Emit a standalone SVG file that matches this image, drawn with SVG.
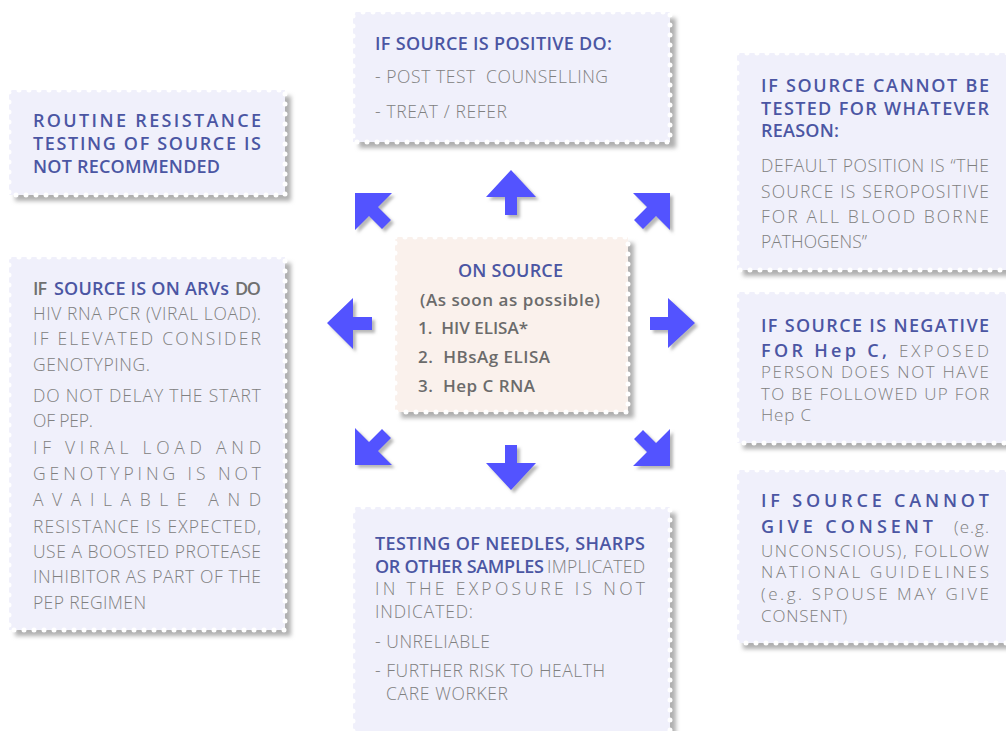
<svg xmlns="http://www.w3.org/2000/svg" width="1006" height="731" viewBox="0 0 1006 731">
<defs>
<filter id="blur" x="-10%" y="-10%" width="120%" height="120%"><feGaussianBlur stdDeviation="2.2"/></filter>
<filter id="ash" x="-30%" y="-30%" width="160%" height="160%"><feDropShadow dx="3" dy="3" stdDeviation="1.5" flood-color="#888" flood-opacity="0.6"/></filter>
<style>
.box{fill:#f0f0fb}
.pbox{fill:#faf1ec}
.sh{fill:#b0b0b0;filter:url(#blur)}
.edge{fill:none;stroke:#fff;stroke-width:5;stroke-dasharray:0 10;stroke-linecap:round}
.t{font-family:"Open Sans","Noto Sans",sans-serif;font-size:18px;font-weight:600;fill:#4b56a3}
.g{font-family:"Open Sans","Noto Sans",sans-serif;font-size:18px;font-weight:600;fill:#707070}
.b{font-family:"Open Sans","Noto Sans",sans-serif;font-size:17.5px;font-weight:300;fill:#808080}
.s{font-size:17px}
.c{font-family:"Open Sans","Noto Sans",sans-serif;font-size:17px;font-weight:600;fill:#6b6b6b;white-space:pre}
.arrow{fill:#5252ff;filter:url(#ash)}
</style>
</defs>
<rect width="1006" height="731" fill="#fff"/>

<g id="connectors">
<polygon class="arrow" points="511,170 536,197 517,197 517,215 505,215 505,197 486,197"/>
<polygon class="arrow" points="511,490 536,463 517,463 517,445 505,445 505,463 486,463"/>
<polygon class="arrow" points="327,323 353,298 353,317 372,317 372,330 353,330 353,349"/>
<polygon class="arrow" points="695,323 668,298 668,317 650,317 650,330 668,330 668,348"/>
<polygon class="arrow" points="355,193 392,193 378,207 391,220 382,229 369,216 355,230"/>
<polygon class="arrow" points="670,193 633,193 647,207 634,220 643,229 656,216 670,230"/>
<polygon class="arrow" points="355,465 392,465 378,451 391,438 382,429 369,442 355,428"/>
<polygon class="arrow" points="670,466 633,466 647,452 634,439 643,430 656,443 670,429"/>
</g>

<g id="positive">
<rect class="sh" x="359" y="18" width="317" height="130"/>
<rect class="box" x="353" y="12" width="317" height="130"/>
<rect class="edge" x="353" y="12" width="317" height="130"/>
<text class="t" x="375" y="50" textLength="237" lengthAdjust="spacing">IF SOURCE IS POSITIVE DO:</text>
<text class="b" x="375" y="83" textLength="233" lengthAdjust="spacing" style="white-space:pre">- POST TEST  COUNSELLING</text>
<text class="b" x="375" y="118" textLength="132" lengthAdjust="spacing">- TREAT / REFER</text>
</g>

<g id="routine">
<rect class="sh" x="15" y="96" width="276" height="105"/>
<rect class="box" x="9" y="90" width="276" height="105"/>
<rect class="edge" x="9" y="90" width="276" height="105"/>
<text class="t" x="33" y="127" textLength="228" lengthAdjust="spacing">ROUTINE RESISTANCE</text>
<text class="t" x="33" y="150" textLength="228" lengthAdjust="spacing">TESTING OF SOURCE IS</text>
<text class="t" x="33" y="173" textLength="187" lengthAdjust="spacing">NOT RECOMMENDED</text>
</g>

<g id="cannot-test">
<rect class="sh" x="743" y="59" width="283" height="217"/>
<rect class="box" x="737" y="53" width="283" height="217"/>
<rect class="edge" x="737" y="53" width="283" height="217"/>
<text class="t" x="761" y="92" textLength="228" lengthAdjust="spacing">IF SOURCE CANNOT BE</text>
<text class="t" x="761" y="115" textLength="228" lengthAdjust="spacing">TESTED FOR WHATEVER</text>
<text class="t" x="761" y="137" textLength="78" lengthAdjust="spacing">REASON:</text>
<text class="b" x="761" y="172" textLength="228" lengthAdjust="spacing">DEFAULT POSITION IS “THE</text>
<text class="b" x="761" y="198" textLength="228" lengthAdjust="spacing">SOURCE IS SEROPOSITIVE</text>
<text class="b" x="761" y="223" textLength="228" lengthAdjust="spacing">FOR ALL BLOOD BORNE</text>
<text class="b" x="761" y="248" textLength="106" lengthAdjust="spacing">PATHOGENS”</text>
</g>

<g id="arvs">
<rect class="sh" x="15" y="263" width="276" height="373"/>
<rect class="box" x="9" y="257" width="276" height="373"/>
<rect class="edge" x="9" y="257" width="276" height="373"/>
<text class="g" x="33" y="295" textLength="14" lengthAdjust="spacing">IF</text>
<text class="t" x="54" y="295" textLength="175" lengthAdjust="spacing">SOURCE IS ON ARVs</text>
<text class="g" x="235" y="295" textLength="26" lengthAdjust="spacing">DO</text>
<text class="b" x="33" y="320" textLength="228" lengthAdjust="spacing">HIV RNA PCR (VIRAL LOAD).</text>
<text class="b" x="33" y="345" textLength="228" lengthAdjust="spacing">IF ELEVATED CONSIDER</text>
<text class="b" x="33" y="371" textLength="117" lengthAdjust="spacing">GENOTYPING.</text>
<text class="b" x="33" y="402" textLength="228" lengthAdjust="spacing">DO NOT DELAY THE START</text>
<text class="b" x="33" y="427" textLength="60" lengthAdjust="spacing">OF PEP.</text>
<text class="b" x="33" y="454" textLength="228" lengthAdjust="spacing">IF VIRAL LOAD AND</text>
<text class="b" x="33" y="480" textLength="228" lengthAdjust="spacing">GENOTYPING IS NOT</text>
<text class="b" x="33" y="506" textLength="228" lengthAdjust="spacing">AVAILABLE AND</text>
<text class="b" x="33" y="533" textLength="228" lengthAdjust="spacing">RESISTANCE IS EXPECTED,</text>
<text class="b" x="33" y="558" textLength="228" lengthAdjust="spacing">USE A BOOSTED PROTEASE</text>
<text class="b" x="33" y="583" textLength="228" lengthAdjust="spacing">INHIBITOR AS PART OF THE</text>
<text class="b" x="33" y="609" textLength="113" lengthAdjust="spacing">PEP REGIMEN</text>
</g>

<g id="on-source">
<rect class="sh" x="401" y="243" width="233" height="175"/>
<rect class="pbox" x="395" y="237" width="233" height="175"/>
<rect class="edge" x="395" y="237" width="233" height="175"/>
<text class="t" x="458" y="277" textLength="105" lengthAdjust="spacing">ON SOURCE</text>
<text class="c" x="420" y="306" textLength="180" lengthAdjust="spacing">(As soon as possible)</text>
<text class="c" x="418" y="334" textLength="110" lengthAdjust="spacing">1.  HIV ELISA*</text>
<text class="c" x="418" y="363" textLength="132" lengthAdjust="spacing">2.  HBsAg ELISA</text>
<text class="c" x="418" y="392" textLength="117" lengthAdjust="spacing">3.  Hep C RNA</text>
</g>

<g id="negative">
<rect class="sh" x="743" y="298" width="283" height="151"/>
<rect class="box" x="737" y="292" width="283" height="151"/>
<rect class="edge" x="737" y="292" width="283" height="151"/>
<text class="t" x="761" y="332" textLength="228" lengthAdjust="spacing">IF SOURCE IS NEGATIVE</text>
<text class="t" x="761" y="357" textLength="126" lengthAdjust="spacing">FOR Hep C,</text>
<text class="b s" x="899" y="357" textLength="90" lengthAdjust="spacing">EXPOSED</text>
<text class="b s" x="761" y="378" textLength="228" lengthAdjust="spacing">PERSON DOES NOT HAVE</text>
<text class="b s" x="761" y="400" textLength="228" lengthAdjust="spacing">TO BE FOLLOWED UP FOR</text>
<text class="b s" x="761" y="421" textLength="50" lengthAdjust="spacing">Hep C</text>
</g>

<g id="consent">
<rect class="sh" x="743" y="476" width="283" height="173"/>
<rect class="box" x="737" y="470" width="283" height="173"/>
<rect class="edge" x="737" y="470" width="283" height="173"/>
<text class="t" x="761" y="507" textLength="228" lengthAdjust="spacing">IF SOURCE CANNOT</text>
<text class="t" x="761" y="533" textLength="172" lengthAdjust="spacing">GIVE CONSENT</text>
<text class="b s" x="954" y="533" textLength="35" lengthAdjust="spacing">(e.g.</text>
<text class="b s" x="761" y="557" textLength="228" lengthAdjust="spacing">UNCONSCIOUS), FOLLOW</text>
<text class="b s" x="761" y="578" textLength="228" lengthAdjust="spacing">NATIONAL GUIDELINES</text>
<text class="b s" x="761" y="600" textLength="228" lengthAdjust="spacing">(e.g. SPOUSE MAY GIVE</text>
<text class="b s" x="761" y="622" textLength="86" lengthAdjust="spacing">CONSENT)</text>
</g>

<g id="needles">
<rect class="sh" x="359" y="513" width="317" height="230"/>
<rect class="box" x="353" y="507" width="317" height="230"/>
<rect class="edge" x="353" y="507" width="317" height="230"/>
<text class="t" x="375" y="550" textLength="270" lengthAdjust="spacing">TESTING OF NEEDLES, SHARPS</text>
<text class="t" x="375" y="573" textLength="169" lengthAdjust="spacing">OR OTHER SAMPLES</text>
<text class="b" x="547" y="573" textLength="98" lengthAdjust="spacing">IMPLICATED</text>
<text class="b" x="375" y="595" textLength="270" lengthAdjust="spacing">IN THE EXPOSURE IS NOT</text>
<text class="b" x="375" y="618" textLength="98" lengthAdjust="spacing">INDICATED:</text>
<text class="b" x="375" y="648" textLength="115" lengthAdjust="spacing">- UNRELIABLE</text>
<text class="b" x="375" y="677" textLength="230" lengthAdjust="spacing">- FURTHER RISK TO HEALTH</text>
<text class="b" x="386" y="700" textLength="122" lengthAdjust="spacing">CARE WORKER</text>
</g>
</svg>
